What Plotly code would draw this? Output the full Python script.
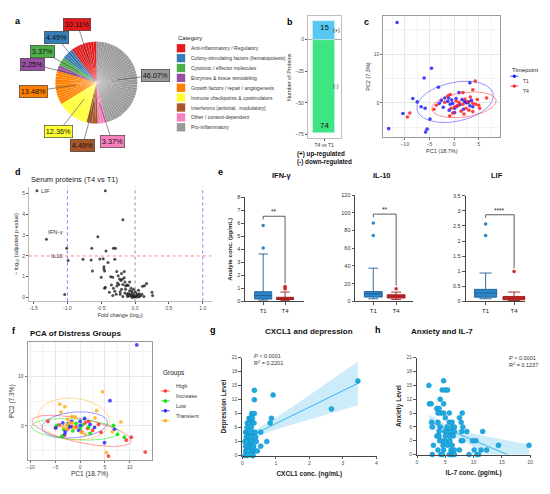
import numpy as np
import plotly.graph_objects as go

W, H = 550, 494
# the page body adds an 8px margin, so positions are measured from the window corner minus this
OFF = 8
FONT = "Liberation Sans, Arial, sans-serif"


def fx(px):
    return (px - OFF) / W


def fy(py):
    return 1 - (py - OFF) / H


# ---------------- data ----------------
# a: protein categories (one wedge per protein)
categories = ["Anti-inflammatory / Regulatory",
              "Colony-stimulating factors (hematopoiesis)",
              "Cytotoxic / effector molecules",
              "Enzymes & tissue remodeling",
              "Growth factors / repair / angiogenesis",
              "Immune checkpoints & costimulators",
              "Interferons (antiviral,  modulatory)",
              "Other / context-dependent",
              "Pro-inflammatory"]
category_counts = [9, 4, 3, 2, 12, 11, 4, 3, 41]
category_colors = ["#E41A1C", "#377EB8", "#4DAF4A", "#984EA3", "#FF7F00",
                   "#FFFF33", "#A65628", "#F781BF", "#999999"]

# b: regulated proteins
reg_labels = ["T4 vs T1"]
n_up = 15
n_down = 74

# c: PCA by timepoint
pca_t1_x = [-11.6, -4.6, -6.1, -3.2, -8.4, -7.5, -10.4, -6.7, -5.9, -4.9, -13.3, -5.5, -5.8,
            3.2, 1.0, -1.9, -2.6, -1.3, -3.0, -0.8, -0.3, 0.1, -1.0, 1.6, 2.1, 2.4, 2.9, 3.2,
            3.8, 0.1, -1.1, 1.2, 2.6, 3.5, -0.5, 0.6, 1.9, -2.2, 2.9, 0.4]
pca_t1_y = [16.5, 7.1, 5.1, 3.2, 0.9, 0.2, -2.2, -0.8, -1.1, -3.3, -5.3, -5.4, -6.0,
            4.1, 2.1, 1.0, 0.5, 0.3, -0.1, -0.3, -0.1, -1.1, -1.5, 0.7, 0.3, 0.1, 0.2, -0.6,
            -0.8, -2.0, 1.0, -0.4, 0.0, 0.5, 0.6, -0.7, -1.3, -0.9, 0.1, 0.9]
pca_t4_x = [4.3, -0.8, 1.8, 3.8, 6.6, 4.7, 2.8, 3.8, 5.0, 5.2, 3.8, 1.4, 0.1, -1.9, -3.6, -4.1,
            -9.0, -9.5, -0.9, -0.3, 0.75, 1.8, -1.3, 2.4, 3.0, 1.0, -0.6, 2.2, 4.4, 0.4, 3.3, 2.0]
pca_t4_y = [4.5, 1.7, 2.1, 2.7, 1.0, 0.7, 0.2, -0.1, -0.5, -1.1, -1.8, -1.7, -0.8, 0.1, -0.5, -1.3,
            -2.1, -2.9, -2.7, -2.1, -0.5, -0.3, 1.4, -1.1, -1.5, 0.1, -1.1, 0.8, -0.3, 0.4, 1.2, -2.3]
# ellipses: centre x, centre y, semi-axis a, semi-axis b, angle (deg)
ell_t1 = [0.2, 0.2, 7.9, 4.0, 12]
ell_t4 = [2.0, -0.4, 6.6, 2.5, 8]

# d: volcano
volc_fc = [-1.45, -0.44, -0.18, -0.55, -1.31, -1.01, -0.64, -0.32, -0.29, -0.43,
           -0.99, -0.77, -0.65, -0.47, -0.40, -0.30, -0.46, -0.46, -0.45, -0.63,
           -0.50, -0.36, -0.33, -0.27, -0.16, -0.23, -0.21, -0.19, -0.26, -0.18,
           -0.14, -0.10, -0.15, -0.44, -0.45, -0.27, -0.33, -0.15, -0.22, -0.04,
           -0.02, 0.00, 0.02, 0.04, 0.06, -0.01, -0.03, 0.11, 0.14, 0.17,
           0.25, 0.26, -1.04, -0.08, -0.12, -0.06, -0.09, 0.01, -0.05, -0.30,
           -0.20, -0.12, -0.25, -0.35, -0.08, 0.05, 0.08, -0.18, -0.10, -0.28,
           0.03, -0.06, 0.10, -0.14, -0.38, -0.24, -0.16, -0.02, -0.22, 0.13,
           -0.07, 0.00, -0.11, 0.06, -0.04, -0.32, -0.20, -0.52]
volc_p = [5.14, 5.14, 3.75, 2.92, 2.80, 2.37, 2.37, 2.37, 2.37, 2.24,
          1.78, 1.84, 1.80, 1.86, 1.68, 1.84, 1.48, 1.37, 1.27, 1.27,
          0.97, 1.00, 0.97, 1.25, 1.25, 0.89, 0.82, 0.88, 0.70, 0.62,
          0.55, 0.58, 0.75, 0.49, 0.45, 0.55, 0.10, 0.22, 0.15, 0.20,
          0.12, 0.05, 0.10, 0.14, 0.18, 0.02, 0.08, 0.54, 0.57, 0.67,
          0.25, 0.10, 0.14, 0.33, 0.14, 0.45, 0.10, 0.22, 0.30, 0.30,
          0.40, 0.60, 1.05, 0.60, 0.75, 0.35, 0.08, 0.05, 0.20, 0.15,
          0.02, 0.06, 0.15, 0.40, 0.25, 0.62, 0.95, 0.40, 0.28, 0.05,
          0.16, 0.28, 0.05, 0.04, 0.00, 0.45, 1.15, 1.85]
volc_named = ["LIF", "IFN-γ", "IL10"]
volc_named_idx = [0, 4, 10]
fc_cut = 1.0
p_cut = 2.0

# e: box plot summaries (T1, T4)
box_analytes = ["IFN-γ", "IL-10", "LIF"]
box_groups = ["T1", "T4"]
box_lower = [[0.10, 0.08], [3.0, 2.3], [0.09, 0.03]]
box_q1 = [[0.18, 0.15], [4.9, 3.8], [0.14, 0.055]]
box_median = [[0.45, 0.22], [8.6, 6.0], [0.28, 0.11]]
box_q3 = [[0.75, 0.32], [11.2, 7.5], [0.40, 0.165]]
box_upper = [[3.65, 0.72], [37.5, 10.5], [0.94, 0.31]]
box_outliers = [[[4.11, 5.84], [0.95, 1.05, 1.15]],
                [[74.3, 88.5], [14.3]],
                [[2.18, 2.56], [0.99]]]
box_ymax = [8, 120, 3.5]
box_ydtick = [1, 20, 0.5]
box_stars = ["**", "**", "****"]
box_bracket = [6.55, 98.5, 2.87]

# f: PCA by distress group
grp_names = ["High", "Increase", "Low", "Transient"]
grp_colors = ["#ff3030", "#00e000", "#2b2bff", "#ffb020"]
grp_x = [
    [13.1, 5.7, 10.3, 9.3, 4.2, -6.5, -5.0, 1.0, 1.7, 3.7, 0.3, -1.7, -2.5, -4.2, -3.2, 1.5, -0.8, 2.5],
    [8.9, 7.5, 6.7, -4.7, -3.7, 1.7, 0.0, -2.3, -1.5, 0.5, -3.3, 2.0, -0.8],
    [11.4, 6.0, 4.9, 0.9, 0.0, 2.9, -1.7, -2.5, -3.5, -4.9, -3.0, -3.1, 0.0, 2.0, 6.9, -0.3, -2.0],
    [4.5, -4.1, -3.1, -3.9, 3.3, -1.7, -1.0, 8.2, -2.5, -2.2, -2.7, -3.4, 6.5, 5.3, 1.0, 3.0, -1.5, -2.8, 0.2, -1.2],
]
grp_y = [
    [-5.3, -6.1, -2.3, -2.9, -1.3, 0.9, -0.4, 0.6, 0.9, 0.3, -1.2, -0.1, -0.6, 0.2, -1.9, -0.5, -0.2, -0.9],
    [-2.3, -1.7, 0.1, 0.1, -2.1, -0.3, -0.5, 0.0, -1.0, 0.2, -0.7, -1.5, 0.5],
    [16.4, 5.1, -3.4, 1.5, 0.9, -0.3, 0.9, 0.4, 0.6, -0.4, -1.1, -1.6, 0.1, 0.3, -0.7, -0.9, -0.2],
    [6.9, 4.4, 3.9, 2.8, 3.1, 1.9, 1.8, 0.8, 1.3, 0.6, 0.2, -0.2, -1.2, -5.4, -1.7, 1.6, 0.6, -0.6, -1.3, -0.5],
]
grp_ell = [[0.3, -1.0, 10.2, 2.4, -12], [-1.0, -0.7, 8.8, 2.1, -4],
           [-1.1, 0.2, 6.6, 2.6, 5], [-1.3, 1.4, 7.2, 4.2, -6]]

# g: CXCL1 vs depression
cxcl1 = [3.45, 2.66, 0.92, 0.36, 0.36, 0.87, 0.83, 0.55, 0.73, 0.55,
         0.28, 0.36, 0.20, 0.25, 0.30, 0.15, 0.22, 0.30, 0.35, 0.27,
         0.10, 0.15, 0.20, 0.30, 0.38, 0.12, 0.20, 0.25, 0.35, 0.40,
         0.08, 0.15, 0.22, 0.30, 0.42, 0.10, 0.18, 0.26, 0.34, 0.10,
         0.15, 0.22, 0.30, 0.38, 0.45, 0.08, 0.15, 0.30, 0.32, 0.12,
         0.18, 0.24, 0.14, 0.26, 0.33]
depression = [16, 10, 13, 14, 12, 8, 7, 5, 3, 2,
              9, 9, 8, 8, 8, 7, 7, 7, 7, 6,
              5, 5, 5, 5, 5, 4, 4, 4, 4, 4,
              3, 3, 3, 3, 3, 2, 2, 2, 2, 1,
              1, 1, 1, 1, 1, 0, 0, 0, 0, 3,
              1, 5, 6, 4, 2]

# h: IL-7 vs anxiety
il7 = [2.1, 4.7, 4.45, 5.0, 5.4, 4.1, 2.2, 2.5, 4.7, 3.5, 3.9,
       3.7, 4.2, 4.7, 5.7, 8.0, 5.0, 7.5,
       2.6, 3.7, 5.7, 6.2, 7.8, 2.7, 4.1, 5.3, 6.2, 6.6, 8.1,
       3.9, 4.9, 5.6, 6.0, 6.6, 7.9, 8.8, 11.6,
       3.5, 3.9, 5.0, 5.8, 6.4,
       4.0, 4.4, 5.1, 5.8, 7.8, 8.1, 9.8, 10.4,
       2.9, 4.6, 5.4, 6.2, 14.4, 19.8,
       3.7, 4.7, 6.0, 6.6, 7.5, 10.1, 11.3, 12.3,
       2.7, 4.2, 4.5, 5.7, 6.0, 6.3, 6.6, 9.2, 10.6, 10.9]
anxiety = [15, 16, 14, 14, 14, 12, 11, 11, 11, 10, 10,
           9, 9, 9, 9, 9, 8, 8,
           7, 7, 7, 7, 7, 6, 6, 6, 6, 6, 6,
           5, 5, 5, 5, 5, 5, 5, 5,
           4, 4, 4, 4, 4,
           3, 3, 3, 3, 3, 3, 3, 3,
           2, 2, 2, 2, 2, 2,
           1, 1, 1, 1, 1, 1, 1, 1,
           0, 0, 0, 0, 0, 0, 0, 0, 0, 0]


# ---------------- helpers ----------------
def ellipse(cx, cy, a, b, ang):
    t = np.linspace(0, 2 * np.pi, 150)
    r = np.deg2rad(ang)
    xs = cx + a * np.cos(t) * np.cos(r) - b * np.sin(t) * np.sin(r)
    ys = cy + a * np.cos(t) * np.sin(r) + b * np.sin(t) * np.cos(r)
    return xs, ys


def fit_band(x, y):
    x = np.asarray(x, float)
    y = np.asarray(y, float)
    slope, icpt = np.polyfit(x, y, 1)
    n = len(x)
    s = np.sqrt(((y - (slope * x + icpt)) ** 2).sum() / (n - 2))
    xs = np.linspace(x.min(), x.max(), 80)
    se = s * np.sqrt(1 / n + (xs - x.mean()) ** 2 / ((x - x.mean()) ** 2).sum())
    fit = slope * xs + icpt
    return xs, fit, fit - 1.99 * se, fit + 1.99 * se


def axis(dom_px, rng, anchor, horiz=True, **kw):
    if horiz:
        dom = [fx(dom_px[0]), fx(dom_px[1])]
    else:
        dom = [fy(dom_px[1]), fy(dom_px[0])]
    d = dict(domain=dom, range=rng, anchor=anchor, showgrid=False, zeroline=False,
             ticks="outside", ticklen=2, tickwidth=0.7, tickcolor="#555",
             tickfont=dict(size=5, color="#4d4d4d"), showline=True,
             linecolor="#555", linewidth=0.8, fixedrange=True)
    d.update(kw)
    return d


fig = go.Figure()
ann = []
shapes = []

# ---------------- a: pie ----------------
pie_order = list(range(len(categories)))[::-1]
wedge_colors, wedge_labels = [], []
for i in pie_order:
    wedge_colors += [category_colors[i]] * category_counts[i]
    wedge_labels += [f"{categories[i]} #{k + 1}" for k in range(category_counts[i])]
fig.add_trace(go.Pie(values=[1] * len(wedge_colors), labels=wedge_labels,
                     marker=dict(colors=wedge_colors, line=dict(color="rgba(255,255,255,0.3)", width=0.3)),
                     sort=False, direction="clockwise", textinfo="none", hoverinfo="skip",
                     showlegend=False,
                     domain=dict(x=[fx(54.5), fx(137.5)], y=[fy(122), fy(39)])))

total = sum(category_counts)
pcx, pcy, pr = 96, 80.5, 41.5
pie_label_pos = [(77, 22), (56, 35), (42, 49), (32, 62), (33, 89),
                 (58, 130), (82, 144), (112, 140), (155, 73)]
tips = {}
cum = 0
for i in pie_order:
    theta = 2 * np.pi * (cum + category_counts[i] / 2) / total
    cum += category_counts[i]
    tips[i] = (pcx + 0.5 * pr * np.sin(theta), pcy - 0.5 * pr * np.cos(theta))
for i, (lx, ly) in enumerate(pie_label_pos):
    tx, ty = tips[i]
    ann.append(dict(x=fx(tx), y=fy(ty), xref="paper", yref="paper", ax=lx - tx, ay=ly - ty,
                    text=f"{100 * category_counts[i] / total:.2f}%", showarrow=True, arrowhead=0,
                    arrowwidth=0.6, arrowcolor="#444", bgcolor=category_colors[i],
                    bordercolor="#333", borderwidth=0.6, borderpad=1.2,
                    font=dict(size=7.3, color="#111")))

# pie legend
ann.append(dict(x=fx(176), y=fy(35), xref="paper", yref="paper", text="Category", showarrow=False,
                xanchor="left", yanchor="middle", font=dict(size=6, color="#222")))
for i, name in enumerate(categories):
    yc = 45.7 + 10 * i
    shapes.append(dict(type="rect", xref="paper", yref="paper", x0=fx(177), x1=fx(185.5),
                       y0=fy(yc + 4.2), y1=fy(yc - 4.2), fillcolor=category_colors[i],
                       line=dict(width=0)))
    ann.append(dict(x=fx(189.5), y=fy(yc), xref="paper", yref="paper", text=name, showarrow=False,
                    xanchor="left", yanchor="middle", font=dict(size=5, color="#333")))

# ---------------- b: bar ----------------
fig.add_trace(go.Bar(x=reg_labels, y=[n_up], marker_color="#56c8f2", width=0.67,
                     xaxis="x", yaxis="y", showlegend=False, hoverinfo="skip"))
fig.add_trace(go.Bar(x=reg_labels, y=[-n_down], marker_color="#3ee681", width=0.67,
                     xaxis="x", yaxis="y", showlegend=False, hoverinfo="skip"))
ann += [
    dict(x=reg_labels[0], y=n_up, xref="x", yref="y", text=str(n_up), showarrow=False,
         yanchor="top", yshift=0, font=dict(size=8, color="#111")),
    dict(x=reg_labels[0], y=-n_down, xref="x", yref="y", text=str(n_down), showarrow=False,
         yanchor="bottom", yshift=1, font=dict(size=8, color="#111")),
    dict(x=fx(337.5), y=n_up / 2, xref="paper", yref="y", text="(+)", showarrow=False,
         font=dict(size=5.5, color="#222")),
    dict(x=fx(337.5), y=-n_down / 2, xref="paper", yref="y", text="(-)", showarrow=False,
         font=dict(size=5.5, color="#222")),
    dict(x=fx(296), y=fy(147), xref="paper", yref="paper", text="<b>(+) up-regulated</b>",
         showarrow=False, xanchor="left", font=dict(size=6.3, color="#111")),
    dict(x=fx(296), y=fy(155), xref="paper", yref="paper", text="<b>(-) down-regulated</b>",
         showarrow=False, xanchor="left", font=dict(size=6.3, color="#111")),
]

# ---------------- c: PCA timepoint ----------------
for xs_, ys_, ell, col in [(pca_t1_x, pca_t1_y, ell_t1, "#2020ff"), (pca_t4_x, pca_t4_y, ell_t4, "#ff2020")]:
    ex, ey = ellipse(*ell)
    fig.add_trace(go.Scatter(x=ex, y=ey, mode="lines", line=dict(color=col, width=0.8),
                             opacity=0.6, xaxis="x2", yaxis="y2", showlegend=False, hoverinfo="skip"))
    fig.add_trace(go.Scatter(x=xs_, y=ys_, mode="markers", marker=dict(size=3.6, color=col, opacity=0.85),
                             xaxis="x2", yaxis="y2", showlegend=False, hoverinfo="skip"))
ann.append(dict(x=fx(513), y=fy(63), xref="paper", yref="paper", text="Timepoint", showarrow=False,
                xanchor="left", font=dict(size=6, color="#222")))
for k, (lab, col) in enumerate([("T1", "#2020ff"), ("T4", "#ff2020")]):
    yc = 74 + 10 * k
    shapes.append(dict(type="line", xref="paper", yref="paper", x0=fx(513), x1=fx(521), y0=fy(yc), y1=fy(yc),
                       line=dict(color=col, width=0.8)))
    shapes.append(dict(type="circle", xref="paper", yref="paper", x0=fx(515.3), x1=fx(518.7),
                       y0=fy(yc + 1.7), y1=fy(yc - 1.7), fillcolor=col, line=dict(width=0)))
    ann.append(dict(x=fx(524), y=fy(yc), xref="paper", yref="paper", text=lab, showarrow=False,
                    xanchor="left", font=dict(size=5, color="#333")))

# ---------------- d: volcano ----------------
fig.add_trace(go.Scatter(x=volc_fc, y=volc_p, mode="markers",
                         marker=dict(size=3, color="rgba(20,20,20,0.75)"),
                         xaxis="x3", yaxis="y3", showlegend=False, hoverinfo="skip"))
label_style = {"LIF": dict(xanchor="left", xshift=2, yshift=0),
               "IFN-γ": dict(xanchor="center", xshift=9, yshift=7),
               "IL10": dict(xanchor="right", xshift=-3, yshift=5)}
for name, idx in zip(volc_named, volc_named_idx):
    ann.append(dict(x=volc_fc[idx], y=volc_p[idx], xref="x3", yref="y3", text=name, showarrow=False,
                    font=dict(size=6, color="#333"), **label_style[name]))
shapes += [
    dict(type="line", xref="x3 domain", yref="y3", x0=0, x1=1, y0=p_cut, y1=p_cut,
         line=dict(color="#ff7070", width=0.9, dash="dot")),
    dict(type="line", xref="x3", yref="y3 domain", x0=-fc_cut, x1=-fc_cut, y0=0, y1=1,
         line=dict(color="#7070ff", width=0.9, dash="dot")),
    dict(type="line", xref="x3", yref="y3 domain", x0=fc_cut, x1=fc_cut, y0=0, y1=1,
         line=dict(color="#7070ff", width=0.9, dash="dot")),
    dict(type="line", xref="x3", yref="y3 domain", x0=0, x1=0, y0=0, y1=1,
         line=dict(color="#888", width=0.9, dash="dot")),
]
ann.append(dict(x=fx(28), y=fy(179), xref="paper", yref="paper", text="Serum proteins (T4 vs T1)",
                showarrow=False, xanchor="left", font=dict(size=7.5, color="#222")))

# ---------------- e: boxes ----------------
box_fill = ["#2b85c8", "#d02a2a"]
box_line = ["#1d5f96", "#9c1a1a"]
e_xdom = [(246, 305), (357, 415), (468, 528)]
e_xrng = [[-0.82, 1.86], [-0.78, 1.74], [-0.70, 1.39]]
e_ytop = [196.7, 194.3, 195]
e_title_x = [283, 395, 508]
for k in range(3):
    xa, ya = f"x{k + 4}", f"y{k + 4}"
    for j in range(2):
        fig.add_trace(go.Box(x=[j], q1=[box_q1[k][j]], median=[box_median[k][j]], q3=[box_q3[k][j]],
                             lowerfence=[box_lower[k][j]], upperfence=[box_upper[k][j]],
                             width=0.78, whiskerwidth=0.55, fillcolor=box_fill[j],
                             line=dict(color=box_line[j], width=0.9), boxpoints=False,
                             xaxis=xa, yaxis=ya, showlegend=False, hoverinfo="skip"))
        outl = box_outliers[k][j]
        fig.add_trace(go.Scatter(x=[j] * len(outl), y=outl, mode="markers",
                                 marker=dict(size=3.5, color=box_fill[j]), cliponaxis=False,
                                 xaxis=xa, yaxis=ya, showlegend=False, hoverinfo="skip"))
    top = box_ymax[k]
    left_end = box_bracket[k] - 0.03 * top
    right_end = max(box_outliers[k][1] + [box_upper[k][1]]) + 0.03 * top
    shapes.append(dict(type="path", xref=xa, yref=ya,
                       path=f"M0,{left_end} L0,{box_bracket[k]} L1,{box_bracket[k]} L1,{right_end}",
                       line=dict(color="#333", width=0.8)))
    ann.append(dict(x=0.5, y=box_bracket[k], xref=xa, yref=ya, text=box_stars[k], showarrow=False,
                    yanchor="bottom", yshift=-1, font=dict(size=6.5, color="#222")))
    ann.append(dict(x=fx(e_title_x[k]), y=fy(175), xref="paper", yref="paper",
                    text=f"<b>{box_analytes[k]}</b>", showarrow=False, font=dict(size=7.5, color="#111")))

# ---------------- f: PCA distress ----------------
for g in range(4):
    ex, ey = ellipse(*grp_ell[g])
    fig.add_trace(go.Scatter(x=ex, y=ey, mode="lines", line=dict(color=grp_colors[g], width=0.8),
                             opacity=0.6, xaxis="x7", yaxis="y7", showlegend=False, hoverinfo="skip"))
for g in range(4):
    fig.add_trace(go.Scatter(x=grp_x[g], y=grp_y[g], mode="markers",
                             marker=dict(size=3.8, color=grp_colors[g], opacity=0.85),
                             xaxis="x7", yaxis="y7", showlegend=False, hoverinfo="skip"))
ann.append(dict(x=fx(27), y=fy(334), xref="paper", yref="paper", text="<b>PCA of Distress Groups</b>",
                showarrow=False, xanchor="left", font=dict(size=8, color="#111")))
ann.append(dict(x=fx(161), y=fy(381), xref="paper", yref="paper", text="Groups", showarrow=False,
                xanchor="left", font=dict(size=6.5, color="#222")))
for g, name in enumerate(grp_names):
    yc = 392.7 + 10 * g
    shapes.append(dict(type="line", xref="paper", yref="paper", x0=fx(161), x1=fx(170), y0=fy(yc), y1=fy(yc),
                       line=dict(color=grp_colors[g], width=0.8)))
    shapes.append(dict(type="circle", xref="paper", yref="paper", x0=fx(163.7), x1=fx(167.3),
                       y0=fy(yc + 1.8), y1=fy(yc - 1.8), fillcolor=grp_colors[g], line=dict(width=0)))
    ann.append(dict(x=fx(174), y=fy(yc), xref="paper", yref="paper", text=name, showarrow=False,
                    xanchor="left", font=dict(size=5.5, color="#333")))

# ---------------- g / h: regressions ----------------
for xs_, ys_, xa, ya in [(cxcl1, depression, "x8", "y8"), (il7, anxiety, "x9", "y9")]:
    bx, bfit, blo, bhi = fit_band(xs_, ys_)
    fig.add_trace(go.Scatter(x=np.concatenate([bx, bx[::-1]]), y=np.concatenate([bhi, blo[::-1]]),
                             fill="toself", fillcolor="rgba(110,200,240,0.35)", line=dict(width=0),
                             mode="lines", xaxis=xa, yaxis=ya, showlegend=False, hoverinfo="skip"))
    fig.add_trace(go.Scatter(x=bx, y=bfit, mode="lines", line=dict(color="#35b4ea", width=1),
                             xaxis=xa, yaxis=ya, showlegend=False, hoverinfo="skip"))
    fig.add_trace(go.Scatter(x=xs_, y=ys_, mode="markers", cliponaxis=False,
                             marker=dict(size=5, color="#1eaae2", line=dict(color="#0f86bb", width=0.4)),
                             xaxis=xa, yaxis=ya, showlegend=False, hoverinfo="skip"))
ann += [
    dict(x=fx(310), y=fy(339), xref="paper", yref="paper", text="<b>CXCL1 and depression</b>",
         showarrow=False, font=dict(size=8, color="#111")),
    dict(x=fx(477), y=fy(339), xref="paper", yref="paper", text="<b>Anxiety and IL-7</b>",
         showarrow=False, font=dict(size=8, color="#111")),
    dict(x=fx(253), y=fy(362), xref="paper", yref="paper", text="<i>P</i> < 0.0001", showarrow=False,
         xanchor="left", font=dict(size=5.5, color="#333")),
    dict(x=fx(253), y=fy(369), xref="paper", yref="paper", text="R<sup>2</sup> = 0.2201", showarrow=False,
         xanchor="left", font=dict(size=5.5, color="#333")),
    dict(x=fx(510), y=fy(364), xref="paper", yref="paper", text="<i>P</i> < 0.0001", showarrow=False,
         xanchor="left", font=dict(size=5.5, color="#333")),
    dict(x=fx(510), y=fy(371), xref="paper", yref="paper", text="R<sup>2</sup> = 0.1237", showarrow=False,
         xanchor="left", font=dict(size=5.5, color="#333")),
]

# panel letters
for letter, (lx, ly) in zip("abcdefgh", [(12, 11), (291, 12), (368, 12), (12, 164), (221, 164),
                                          (9, 332), (213, 331), (385, 331)]):
    ann.append(dict(x=fx(lx), y=fy(ly), xref="paper", yref="paper", text=f"<b>{letter}</b>",
                    showarrow=False, font=dict(size=9, color="#000")))

# ---------------- axes ----------------
gg = dict(showgrid=True, gridcolor="#e8e8e8", gridwidth=0.6, mirror=True, linecolor="#9a9a9a",
          ticklen=2, tickcolor="#777")
layout_axes = dict(
    xaxis=axis((309, 342), [-0.5, 0.5], "y", mirror=True, linecolor="#bdbdbd",
               tickfont=dict(size=5, color="#333")),
    yaxis=axis((13, 137), [-78.1, 18.75], "x", False, mirror=True, linecolor="#bdbdbd",
               tickvals=[-75, -50, -25, 0], zeroline=True, zerolinecolor="#aaa", zerolinewidth=1,
               title=dict(text="Number of Proteins", font=dict(size=5.5, color="#333"), standoff=3)),
    xaxis2=axis((385, 503), [-14.4, 9.4], "y2", dtick=5, tick0=0,
                minor=dict(dtick=2.5, showgrid=True, gridcolor="#f3f3f3", gridwidth=0.4),
                title=dict(text="PC1 (18.7%)", font=dict(size=5.5, color="#333"), standoff=2), **gg),
    yaxis2=axis((12.7, 136), [-7.1, 17.9], "x2", False, dtick=10, tick0=0,
                minor=dict(dtick=5, showgrid=True, gridcolor="#f3f3f3", gridwidth=0.4),
                title=dict(text="PC2 (7.3%)", font=dict(size=5.5, color="#333"), standoff=2), **gg),
    xaxis3=axis((28, 212), [-1.57, 1.13], "y3", tickvals=[-1.5, -1.0, -0.5, 0.0, 0.5, 1.0],
                ticktext=["-1.5", "-1.0", "-0.5", "0.0", "0.5", "1.0"], linecolor="#bbb",
                title=dict(text="Fold change (log<sub>2</sub>)", font=dict(size=5.5, color="#333"), standoff=2)),
    yaxis3=axis((186, 302), [-0.19, 5.33], "x3", False, dtick=1, tick0=0, linecolor="#bbb",
                title=dict(text="− log<sub>10</sub> (adjusted p-value)", font=dict(size=5.5, color="#333"),
                           standoff=3)),
    xaxis7=axis((26.7, 151.7), [-10.6, 14.4], "y7", dtick=5, tick0=0,
                minor=dict(dtick=2.5, showgrid=True, gridcolor="#f3f3f3", gridwidth=0.4),
                title=dict(text="PC1 (18.7%)", font=dict(size=6.5, color="#333"), standoff=2), **gg),
    yaxis7=axis((343, 463), [-7, 17], "x7", False, dtick=10, tick0=0,
                minor=dict(dtick=5, showgrid=True, gridcolor="#f3f3f3", gridwidth=0.4),
                title=dict(text="PC2 (7.3%)", font=dict(size=6.5, color="#333"), standoff=2), **gg),
    xaxis8=axis((243, 378), [0, 4], "y8", dtick=1, linecolor="#444", ticklen=3,
                title=dict(text="<b>CXCL1 conc. (ng/mL)</b>", font=dict(size=6.5, color="#222"), standoff=6)),
    yaxis8=axis((359, 458), [0, 21], "x8", False, dtick=3, linecolor="#444", ticklen=3,
                title=dict(text="<b>Depression Level</b>", font=dict(size=6.5, color="#222"), standoff=4)),
    xaxis9=axis((419, 533), [0, 20], "y9", dtick=5, linecolor="#444", ticklen=3,
                title=dict(text="<b>IL-7 conc. (pg/mL)</b>", font=dict(size=6.5, color="#222"), standoff=6)),
    yaxis9=axis((359, 457), [0, 21], "x9", False, dtick=3, linecolor="#444", ticklen=3,
                title=dict(text="<b>Anxiety Level</b>", font=dict(size=6.5, color="#222"), standoff=4)),
)
for k in range(3):
    layout_axes[f"xaxis{k + 4}"] = axis(e_xdom[k], e_xrng[k], f"y{k + 4}", tickvals=[0, 1],
                                        ticktext=box_groups, linecolor="#444", ticklen=3,
                                        tickfont=dict(size=6, color="#222"))
    ykw = dict(dtick=box_ydtick[k], linecolor="#444", ticklen=3, tickfont=dict(size=5.5, color="#333"))
    if k == 0:
        ykw["title"] = dict(text="<b>Analyte conc. (pg/mL)</b>", font=dict(size=6, color="#222"), standoff=4)
    layout_axes[f"yaxis{k + 4}"] = axis((e_ytop[k], 302), [0, box_ymax[k]], f"x{k + 4}", False, **ykw)

fig.update_layout(
    width=W, height=H, margin=dict(l=0, r=0, t=0, b=0),
    paper_bgcolor="white", plot_bgcolor="white",
    font=dict(family=FONT, color="#333"),
    barmode="relative", bargap=0,
    annotations=ann, shapes=shapes, showlegend=False,
    **layout_axes,
)

fig.write_html("out.html")
